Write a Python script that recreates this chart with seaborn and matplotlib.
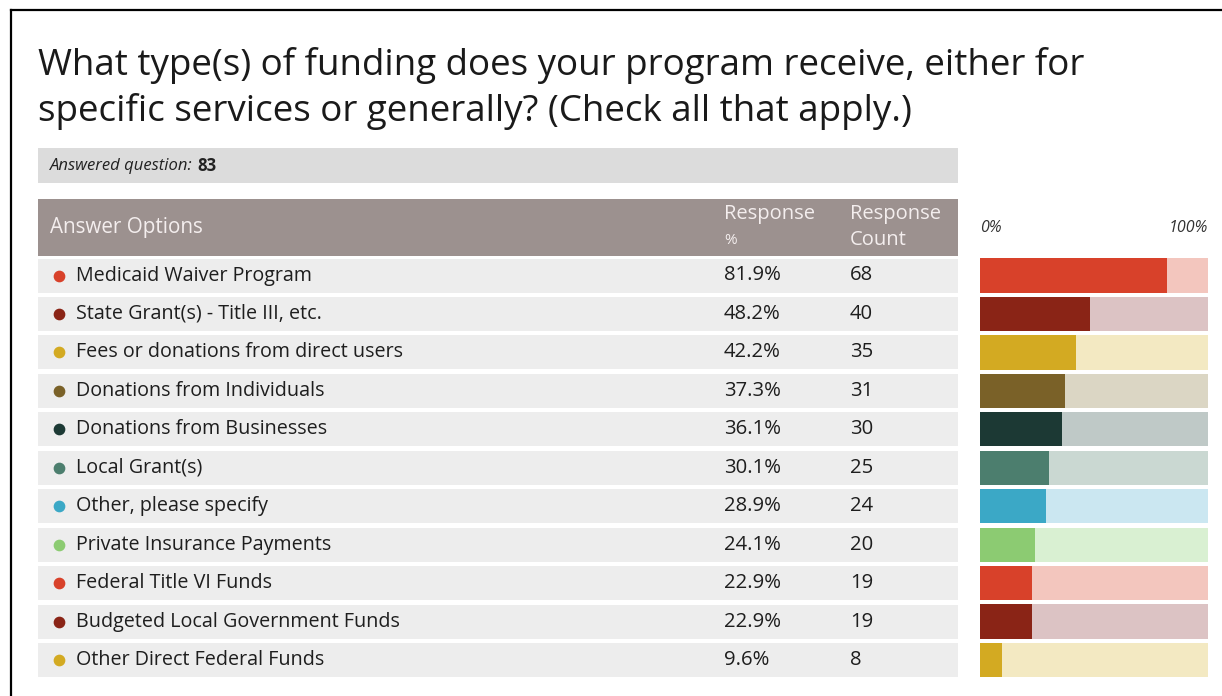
import matplotlib.pyplot as plt
import numpy as np
import pandas as pd
import seaborn as sns
from matplotlib.patches import Rectangle

# survey data
options = [
    'Medicaid Waiver Program',
    'State Grant(s) - Title III, etc.',
    'Fees or donations from direct users',
    'Donations from Individuals',
    'Donations from Businesses',
    'Local Grant(s)',
    'Other, please specify',
    'Private Insurance Payments',
    'Federal Title VI Funds',
    'Budgeted Local Government Funds',
    'Other Direct Federal Funds',
]
response_pct = [81.9, 48.2, 42.2, 37.3, 36.1, 30.1, 28.9, 24.1, 22.9, 22.9, 9.6]
response_count = [68, 40, 35, 31, 30, 25, 24, 20, 19, 19, 8]
answered = 83

dark_colors = ['#d8412a', '#8a2416', '#d3aa22', '#7a6128', '#1c3934', '#4c7e6e',
               '#3ba8c6', '#8ccb72', '#d8412a', '#8a2416', '#d3aa22']
light_colors = ['#f3c6be', '#dcc3c4', '#f3e9c2', '#dbd6c4', '#bfc9c7', '#cad8d2',
                '#cbe7f1', '#d9f0d2', '#f3c6be', '#dcc3c4', '#f3e9c2']

df = pd.DataFrame({'option': options, 'pct': response_pct, 'full': 100.0})

W, H = 1222, 696
fig = plt.figure(figsize=(W / 100, H / 100), dpi=100)
plt.rcParams['font.family'] = ['Open Sans', 'DejaVu Sans']

# base axes in pixel coordinates
base = fig.add_axes([0, 0, 1, 1])
base.set_xlim(0, W)
base.set_ylim(H, 0)
base.axis('off')

# frame lines (top and left)
base.plot([11, W], [10, 10], color='black', lw=1.6)
base.plot([11, 11], [10, H], color='black', lw=1.6)

base.text(38, 66, 'What type(s) of funding does your program receive, either for',
          fontsize=26.5, color='#1a1a1a', va='center')
base.text(38, 111, 'specific services or generally? (Check all that apply.)',
          fontsize=26.5, color='#1a1a1a', va='center')

# answered question strip
base.add_patch(Rectangle((38, 148), 920, 35, color='#dcdcdc', lw=0))
t = base.text(50, 166, 'Answered question: ', fontsize=12, style='italic',
              color='#222222', va='center')
base.annotate(str(answered), xycoords=t, xy=(1, 0.5), va='center',
              fontsize=12, fontweight='bold', color='#222222')

# header strip
base.add_patch(Rectangle((38, 199), 920, 57, color='#9c918f', lw=0))
hdr = dict(fontsize=14.5, color='#f4eeee', va='center')
base.text(50, 228, 'Answer Options', fontsize=14.9, color='#f4eeee', va='center')
base.text(724, 214, 'Response', **hdr)
base.text(724, 240, '%', fontsize=11, color='#f4eeee', va='center')
base.text(850, 214, 'Response', **hdr)
base.text(850, 240, 'Count', **hdr)

base.text(980, 228, '0%', fontsize=11.5, style='italic', color='#333333', va='center')
base.text(1208, 228, '100%', fontsize=11.5, style='italic', color='#333333',
          va='center', ha='right')

# table rows
row0, pitch = 275.5, 38.45
for i, (opt, pct, cnt) in enumerate(zip(options, response_pct, response_count)):
    yc = row0 + i * pitch
    base.add_patch(Rectangle((38, yc - 17), 920, 34, color='#ededed', lw=0))
    base.scatter(59, yc, s=55, color=dark_colors[i], zorder=3)
    base.text(76, yc, opt, fontsize=14.2, color='#1e1e1e', va='center')
    base.text(724, yc, f'{pct}%', fontsize=14.6, color='#1e1e1e', va='center')
    base.text(850, yc, str(cnt), fontsize=14.6, color='#1e1e1e', va='center')

# bar axes
top = row0 - pitch / 2
bottom = row0 + 10 * pitch + pitch / 2
bx = fig.add_axes([980 / W, 1 - bottom / H, (1208 - 980) / W, (bottom - top) / H])
sns.barplot(data=df, x='full', y='option', hue='option', palette=light_colors,
            orient='h', width=0.89, legend=False, ax=bx, saturation=1)
sns.barplot(data=df, x='pct', y='option', hue='option', palette=dark_colors,
            orient='h', width=0.89, legend=False, ax=bx, saturation=1)
bx.set_xlim(0, 100)
bx.set_ylim(len(options) - 0.5, -0.5)
bx.axis('off')

fig.savefig('out.png', dpi=100)
